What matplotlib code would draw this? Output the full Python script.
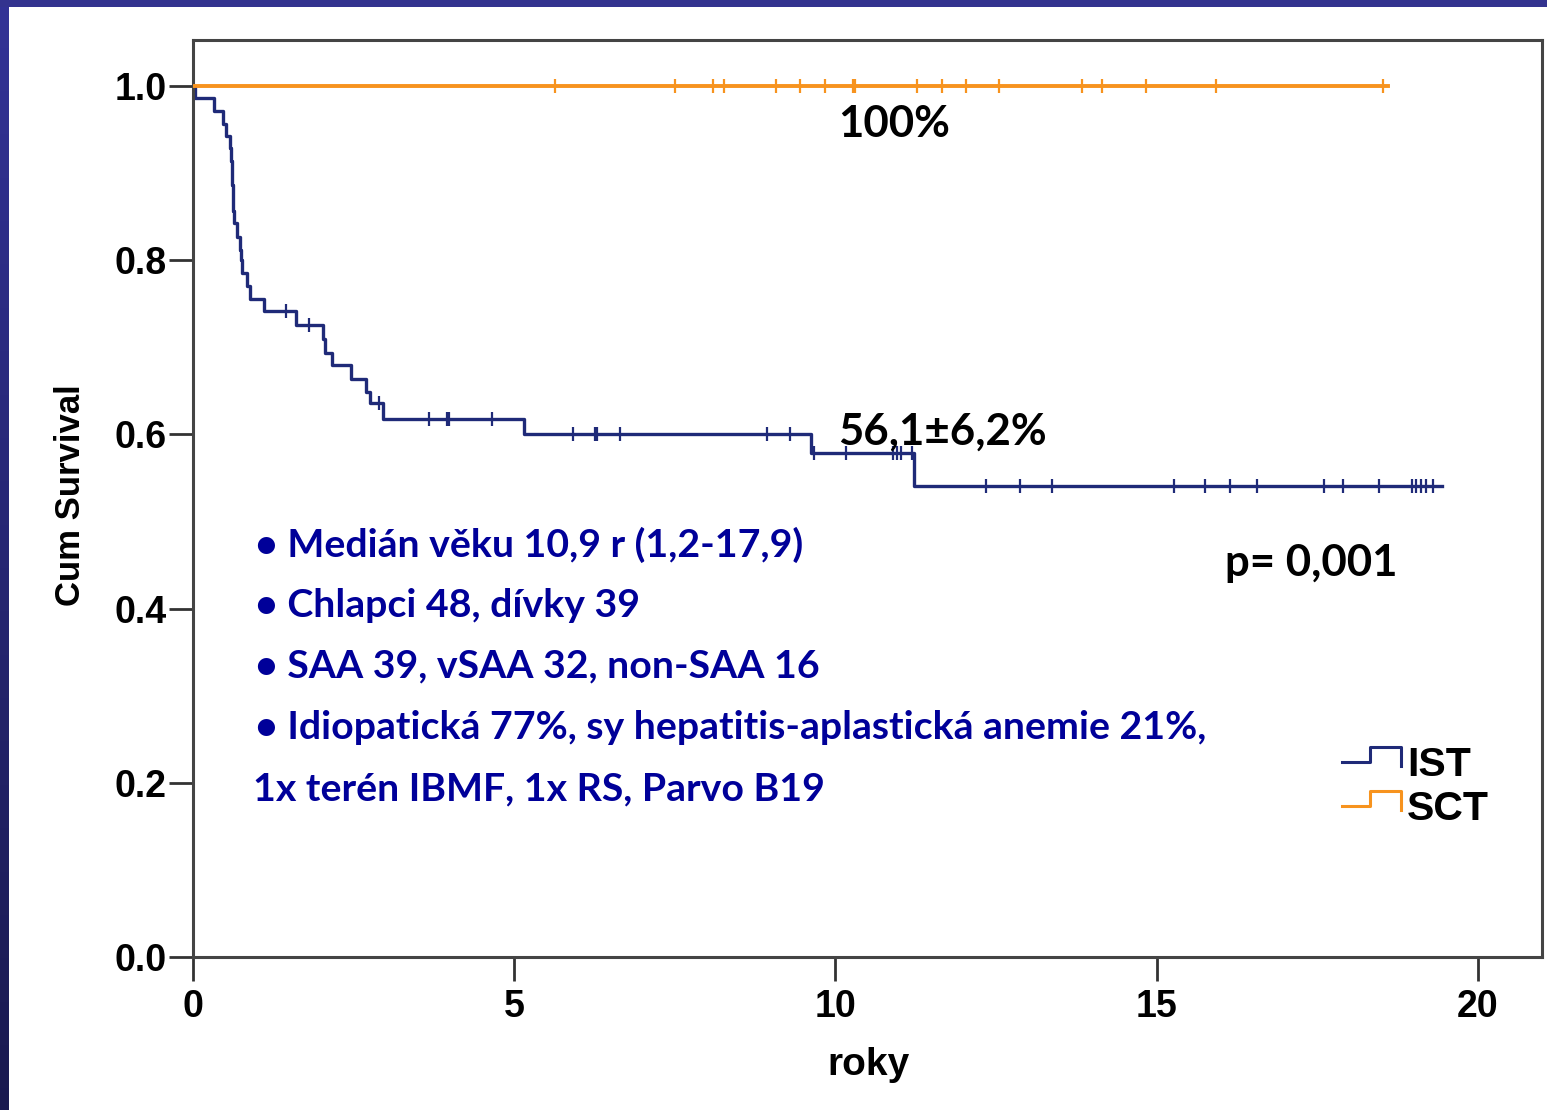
import matplotlib.pyplot as plt
import numpy as np
from matplotlib.lines import Line2D
from matplotlib.legend_handler import HandlerBase

# Kaplan-Meier data (time in years, survival after the step)
ist_times = [0, 0.03, 0.32, 0.46, 0.51, 0.58, 0.59, 0.60, 0.61, 0.615, 0.62, 0.64, 0.68,
             0.73, 0.75, 0.77, 0.84, 0.88, 1.10, 1.60, 2.02, 2.05, 2.16, 2.46, 2.70,
             2.75, 2.96, 5.15, 9.62, 11.22]
ist_surv = [1.0, 0.986, 0.971, 0.957, 0.943, 0.929, 0.914, 0.900, 0.886, 0.871, 0.857,
            0.843, 0.827, 0.812, 0.800, 0.785, 0.770, 0.756, 0.742, 0.726, 0.710, 0.694,
            0.680, 0.664, 0.649, 0.636, 0.618, 0.601, 0.579, 0.541]
ist_end = 19.45
ist_censor = [1.45, 1.80, 2.89, 3.68, 3.95, 3.99, 4.65, 5.92, 6.26, 6.29, 6.64, 8.93,
              9.29, 9.66, 10.16, 10.90, 10.96, 11.02, 11.19, 12.35, 12.87, 13.37, 15.27,
              15.76, 16.15, 16.57, 17.61, 17.90, 18.47, 18.97, 19.04, 19.12, 19.20, 19.31]

sct_times = [0]
sct_surv = [1.0]
sct_end = 18.61
sct_censor = [5.64, 7.51, 8.10, 8.27, 9.08, 9.45, 9.84, 10.27, 10.31, 11.27, 11.66,
              12.04, 12.54, 13.84, 14.15, 14.83, 15.92, 18.52]

groups = ['IST', 'SCT']
colors = ['#1f2a78', '#f7931e']

x_ticks = [0, 5, 10, 15, 20]
y_ticks = [0.0, 0.2, 0.4, 0.6, 0.8, 1.0]

notes = ['\u2022 Medián věku 10,9 r (1,2-17,9)',
         '\u2022 Chlapci 48, dívky 39',
         '\u2022 SAA 39, vSAA 32, non-SAA 16',
         '\u2022 Idiopatická 77%, sy hepatitis-aplastická anemie 21%,',
         '1x terén IBMF, 1x RS, Parvo B19']

fig = plt.figure(figsize=(15.47, 11.10), dpi=100)
fig.patch.set_facecolor('white')

# slide border: gradient strip on the left, solid strip on top
left_bar = fig.add_axes([0, 0, 9/1547, 1])
grad = np.linspace(0, 1, 256).reshape(-1, 1)
c_top = np.array([0.20, 0.20, 0.59])
c_bot = np.array([0.10, 0.10, 0.31])
left_bar.imshow((c_bot*grad[..., None] + c_top*(1-grad[..., None])), aspect='auto')
left_bar.axis('off')
top_bar = fig.add_axes([0, 1-7/1110, 1, 7/1110])
top_bar.set_facecolor('#33338f')
top_bar.set_xticks([]); top_bar.set_yticks([])
for s in top_bar.spines.values():
    s.set_visible(False)

ax = fig.add_axes([193/1547, 1-957/1110, 1349/1547, 917/1110])


def km_line(times, surv, end):
    t = np.array(list(times) + [end])
    s = np.array(list(surv) + [surv[-1]])
    return t, s


def at(times, surv, c):
    i = np.searchsorted(times, c, side='right') - 1
    return np.array(surv)[i]


for name, times, surv, end, cens, col in [
        ('IST', ist_times, ist_surv, ist_end, ist_censor, colors[0]),
        ('SCT', sct_times, sct_surv, sct_end, sct_censor, colors[1])]:
    t, s = km_line(times, surv, end)
    lw = 2.4 if name == 'IST' else 2.8
    ax.step(t, s, where='post', color=col, lw=lw, label=name, zorder=3 if name == 'SCT' else 2)
    ax.plot(cens, at(times, surv, cens), ls='none', marker='|', ms=10, mew=1.6, color=col,
            zorder=3)

ax.set_xlim(0, 21.0)
ax.set_ylim(0, 1.053)
ax.set_xticks(x_ticks)
ax.set_yticks(y_ticks)
ax.set_yticklabels(['%.1f' % v for v in y_ticks])
ax.tick_params(direction='out', length=17, width=2, color='#333333', labelsize=27)
ax.tick_params(axis='y', pad=2)
ax.tick_params(axis='x', pad=6)
for lab in ax.get_xticklabels() + ax.get_yticklabels():
    lab.set_family('Liberation Sans')
    lab.set_fontweight('bold')
for s in ax.spines.values():
    s.set_color('#444444')
    s.set_linewidth(2.2)

fig.text(70/1547, 1-495/1110, 'Cum Survival', rotation=90, ha='center', va='center',
         fontsize=25, family='Liberation Sans', fontweight='bold')
fig.text(868/1547, 1-1065/1110, 'roky', ha='center', va='center',
         fontsize=28, family='Liberation Sans', fontweight='bold')


# legend handle drawn as a little KM step (heights in units of the font size)
class StepHandler(HandlerBase):
    def create_artists(self, legend, orig_handle, xdescent, ydescent, width, height,
                       fontsize, trans):
        xs = np.array([0, 0.465, 0.465, 1.0, 1.0]) * width - xdescent
        ys = np.array([0.335, 0.335, 0.70, 0.70, 0.24]) * fontsize - ydescent
        ln = Line2D(xs, ys, color=orig_handle.get_color(), lw=2.2, transform=trans)
        return [ln]


handles = [Line2D([], [], color=c) for c in colors]
leg = ax.legend(handles, groups, handler_map={Line2D: StepHandler()},
                loc='upper left', bbox_to_anchor=(0.852, 0.230), frameon=False,
                prop={'family': 'Liberation Sans', 'weight': 'bold', 'size': 29.5},
                handlelength=1.44, handleheight=0.7, handletextpad=0.14,
                labelspacing=0.14, borderpad=0, borderaxespad=0)

# annotations
txt_font = ['Lato', 'DejaVu Sans']
ax.text(10.05, 0.956, '100%', fontsize=31.5, fontweight='bold', family=txt_font,
        va='center', ha='left')
ax.text(10.05, 0.603, '56,1\u00b16,2%', fontsize=31.5, fontweight='bold', family=txt_font,
        va='center', ha='left')
ax.text(16.07, 0.452, 'p= 0,001', fontsize=31.5, fontweight='bold', family=txt_font,
        va='center', ha='left')

note_y = [0.473, 0.404, 0.334, 0.263, 0.193]
note_x = [0.966, 0.966, 0.966, 0.966, 0.935]
for x, y, s in zip(note_x, note_y, notes):
    ax.text(x, y, s, fontsize=28.3, fontweight='bold', family=txt_font, color='#000099',
            va='center', ha='left')

fig.savefig('out.png', dpi=100, facecolor='white')
